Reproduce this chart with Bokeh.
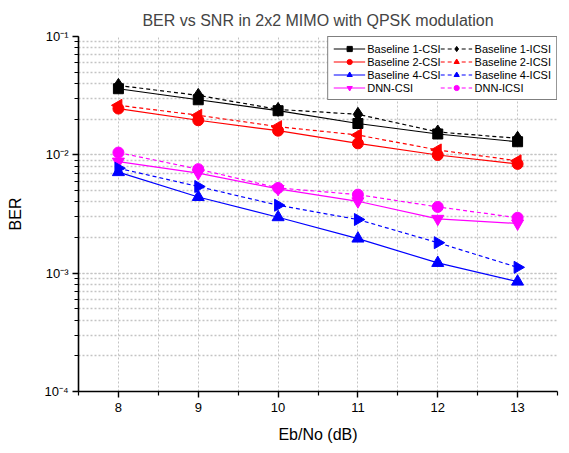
from bokeh.plotting import figure
from bokeh.models import FixedTicker, CustomJSTickFormatter, Legend, LegendItem, LogTicker
from bokeh.embed import file_html
from bokeh.resources import INLINE

snr = [8, 9, 10, 11, 12, 13]
b1_csi = [0.0362, 0.0292, 0.0236, 0.0184, 0.0150, 0.0129]
b1_icsi = [0.0386, 0.0318, 0.0242, 0.0220, 0.0156, 0.0138]
b2_csi = [0.0246, 0.0196, 0.0160, 0.0125, 0.00997, 0.00838]
b2_icsi = [0.0262, 0.0216, 0.0173, 0.0147, 0.0110, 0.0089]
b4_csi = [0.00714, 0.0044, 0.00297, 0.00196, 0.00122, 0.000848]
b4_icsi = [0.0077, 0.0054, 0.00375, 0.00284, 0.00181, 0.00112]
dnn_csi = [0.00877, 0.0070, 0.00515, 0.00405, 0.00288, 0.00263]
dnn_icsi = [0.01045, 0.00757, 0.00525, 0.00461, 0.00363, 0.00294]

x_ticks = [8, 9, 10, 11, 12, 13]
x_minor = [7.5, 8.5, 9.5, 10.5, 11.5, 12.5, 13.5]

FONT = "Liberation Sans"

p = figure(width=561, height=445, x_range=(7.5, 13.5), y_range=(1e-4, 1e-1),
           y_axis_type="log", output_backend="svg", toolbar_location=None,
           title="BER vs SNR in 2x2 MIMO with QPSK modulation",
           min_border_left=78, min_border_right=4, min_border_top=36, min_border_bottom=52)
p.outline_line_color = None
p.background_fill_color = "white"
p.border_fill_color = "white"

p.title.text_font = FONT
p.title.text_font_size = "16px"
p.title.text_font_style = "normal"
p.title.align = "center"
p.title.standoff = 16

# axes
p.xaxis.ticker = FixedTicker(ticks=x_ticks, minor_ticks=x_minor)
p.yaxis.ticker = LogTicker(num_minor_ticks=10)
p.yaxis.formatter = CustomJSTickFormatter(code="""
const sup = {'-':'\u207b','0':'\u2070','1':'\u00b9','2':'\u00b2','3':'\u00b3','4':'\u2074','5':'\u2075','6':'\u2076','7':'\u2077','8':'\u2078','9':'\u2079'};
const e = String(Math.round(Math.log10(tick)));
let s = '';
for (const c of e) s += sup[c];
return '10' + s;
""")
for ax in (p.xaxis[0], p.yaxis[0]):
    ax.axis_line_color = "black"
    ax.axis_line_width = 1.6
    ax.major_tick_line_color = "black"
    ax.minor_tick_line_color = "black"
    ax.major_tick_line_width = 1.4
    ax.minor_tick_line_width = 1.2
    ax.major_tick_in = 0
    ax.minor_tick_in = 0
    ax.major_tick_out = 6
    ax.minor_tick_out = 4
    ax.major_label_text_font = FONT
    ax.major_label_text_font_size = "13px"
    ax.major_label_text_color = "black"
    ax.axis_label_text_font = FONT
    ax.axis_label_text_font_size = "16px"
    ax.axis_label_text_font_style = "normal"
    ax.axis_label_text_color = "black"
p.xaxis.axis_label = "Eb/No (dB)"
p.yaxis.axis_label = "BER"
p.xaxis.axis_label_standoff = 11
p.yaxis.axis_label_standoff = 17
p.yaxis.major_label_standoff = 4

# grids
for g in (p.xgrid[0], p.ygrid[0]):
    g.grid_line_color = "#c4c4c4"
    g.grid_line_dash = "2 2"
    g.grid_line_width = 1
    g.minor_grid_line_color = "#c4c4c4"
    g.minor_grid_line_dash = "2 2"
    g.minor_grid_line_width = 1
p.ygrid.minor_grid_line_width = 1.3

series = [
    ("Baseline 1-CSI", b1_csi, "black", "square", 10, "solid", 0),
    ("Baseline 2-CSI", b2_csi, "red", "circle", 11, "solid", 0),
    ("Baseline 4-CSI", b4_csi, "blue", "triangle", 12, "solid", 0),
    ("DNN-CSI", dnn_csi, "magenta", "inverted_triangle", 12, "solid", 0),
    ("Baseline 1-ICSI", b1_icsi, "black", "diamond", 14, "4 3", 0),
    ("Baseline 2-ICSI", b2_icsi, "red", "triangle", 12, "4 3", 1.5708),
    ("Baseline 4-ICSI", b4_icsi, "blue", "triangle", 12, "4 3", -1.5708),
    ("DNN-ICSI", dnn_icsi, "magenta", "circle", 11, "4 3", 0),
]

items = []
for name, ys, color, marker, size, dash, ang in series:
    ln = p.line(snr, ys, line_color=color, line_width=1.2, line_dash=dash)
    sc = p.scatter(snr, ys, marker=marker, size=size, fill_color=color,
                   line_color=color, angle=ang)
    items.append(LegendItem(label=name, renderers=[ln, sc]))

legend = Legend(items=items, ncols=2, location="top_right")
legend.label_text_font = FONT
legend.label_text_font_size = "11px"
legend.label_text_color = "black"
legend.glyph_width = 32
legend.glyph_height = 13
legend.label_height = 13
legend.label_standoff = 2
legend.spacing = 0
legend.padding = 5
legend.margin = 0
legend.border_line_color = "black"
legend.border_line_width = 1.2
legend.background_fill_alpha = 1
p.add_layout(legend)

open("out.html", "w").write(file_html(p, INLINE))
